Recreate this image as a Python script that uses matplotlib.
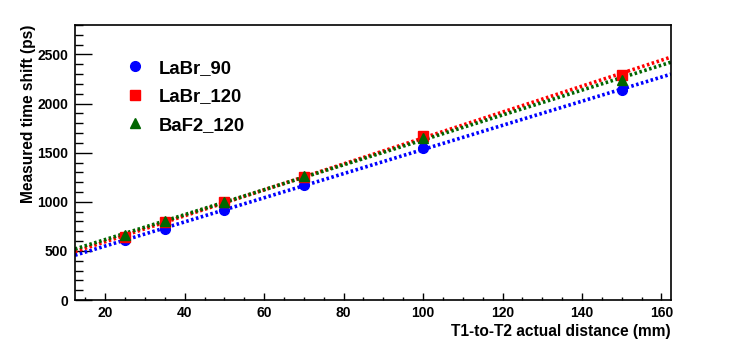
import numpy as np
import matplotlib
matplotlib.use('Agg')
import matplotlib.pyplot as plt
from matplotlib.ticker import MultipleLocator

plt.rcParams['font.family'] = ['Liberation Sans', 'DejaVu Sans']
plt.rcParams['font.weight'] = 'bold'

# measured distances (mm) and time shifts (ps)
distance = [25, 35, 50, 70, 100, 150]
labr_90 = [612, 721, 918, 1170, 1549, 2136]
labr_120 = [646, 796, 993, 1248, 1673, 2296]
baf2_120 = [658, 806, 1000, 1262, 1653, 2245]

series_names = ['LaBr_90', 'LaBr_120', 'BaF2_120']
series_values = [labr_90, labr_120, baf2_120]
series_colors = ['#0000ff', '#ff0000', '#006600']
series_markers = ['o', 's', '^']
series_sizes = [7, 7, 7]

x_min, x_max = 12.4, 162.4

fig = plt.figure(figsize=(7.47, 3.44), dpi=100)
ax = fig.add_axes([75 / 747, 44 / 344, 596 / 747, 275 / 344])

xfit = np.array([x_min, x_max])
for name, vals, col, mk, ms in zip(series_names, series_values, series_colors,
                                   series_markers, series_sizes):
    # linear fit drawn as dotted line across the whole range
    p = np.polyfit(distance, vals, 1)
    ax.plot(xfit, np.polyval(p, xfit), linestyle=(0, (0.7, 0.7)), color=col,
            linewidth=2.6, zorder=2)
    ax.plot(distance, vals, linestyle='none', marker=mk, markersize=ms,
            color=col, label=name, zorder=3)

ax.set_xlim(x_min, x_max)
ax.set_ylim(0, 2800)

ax.xaxis.set_major_locator(MultipleLocator(20))
ax.xaxis.set_minor_locator(MultipleLocator(5))
ax.yaxis.set_major_locator(MultipleLocator(500))
ax.yaxis.set_minor_locator(MultipleLocator(100))

ax.tick_params(axis='both', which='both', direction='in', labelsize=10,
               top=False, right=False)
ax.tick_params(axis='y', which='major', length=12.5, width=1, pad=5)
ax.tick_params(axis='y', which='minor', length=6, width=1)
ax.tick_params(axis='x', which='major', length=5, width=1, pad=4)
ax.tick_params(axis='x', which='minor', length=2.5, width=1)
for lab in ax.get_xticklabels() + ax.get_yticklabels():
    lab.set_fontweight('bold')

for sp in ax.spines.values():
    sp.set_linewidth(1.2)

ax.set_xlabel('T1-to-T2 actual distance (mm)', fontsize=11.2, fontweight='bold',
              loc='right', labelpad=3)
ax.set_ylabel('Measured time shift (ps)', fontsize=11.2, fontweight='bold',
              loc='top', labelpad=1)

leg = ax.legend(loc='upper left', bbox_to_anchor=(0.07, 0.9), frameon=False,
                prop={'size': 13.3, 'weight': 'bold'}, handletextpad=0.65,
                labelspacing=0.62, handlelength=1.2, borderaxespad=0)

plt.savefig('out.png', dpi=100)
plt.close()
